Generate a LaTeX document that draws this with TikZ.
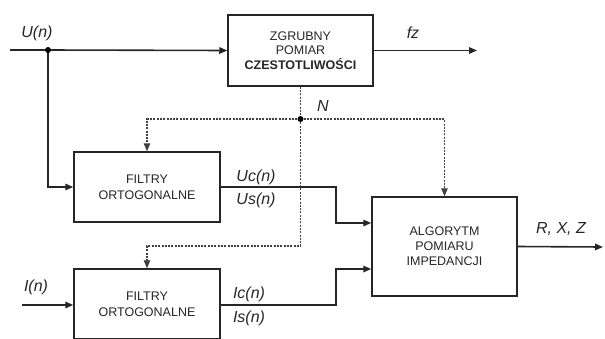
\documentclass[tikz,border=0pt]{standalone}
\usepackage{fontspec}
\setmainfont{Liberation Sans}
\usetikzlibrary{arrows.meta}
\begin{document}
\begin{tikzpicture}[x=1pt,y=-1pt,
  blk/.style={draw=black!85,line width=1.5pt,fill=white,align=center,inner sep=0pt,
    font=\fontsize{12.5}{14.5}\selectfont,text=black!85},
  lab/.style={font=\fontsize{16}{18}\selectfont\itshape,text=black!85,inner sep=0pt},
  sig/.style={draw=black!85,line width=1.6pt},
  arr/.style={sig,-{Triangle[length=8pt,width=6.5pt]}},
  dot/.style={draw=black!75,line width=1.1pt,dash pattern=on 2pt off 1.3pt},
  darr/.style={dot,-{Triangle[length=8pt,width=6.5pt]}},
  jn/.style={circle,fill=black,inner sep=0pt,minimum size=6pt}]
\useasboundingbox (0,0) rectangle (605,338);

% blocks
\node[blk,minimum width=145pt,minimum height=71pt] (top) at (300.5,50.5)
  {ZGRUBNY\\POMIAR\\\textbf{CZESTOTLIWOŚCI}};
\node[blk,minimum width=146pt,minimum height=70pt,font=\fontsize{12.5}{16}\selectfont] (f1) at (147,187)
  {FILTRY\\ORTOGONALNE};
\node[blk,minimum width=146pt,minimum height=70pt,font=\fontsize{12.5}{16}\selectfont] (f2) at (147,304)
  {FILTRY\\ORTOGONALNE};
\node[blk,minimum width=145pt,minimum height=99pt,font=\fontsize{12.5}{15}\selectfont] (alg) at (444.5,246.5)
  {ALGORYTM\\POMIARU\\IMPEDANCJI};

% junction positions
\coordinate (ujc) at (48,50);
\coordinate (njc) at (300.5,119);
\coordinate (uin) at (10,50);
\coordinate (iin) at (22,305);
\coordinate (fzout) at (477,50.5);
\coordinate (rout) at (603,247);

% solid signals
\draw[sig] (uin) -- (ujc);
\draw[arr] (ujc) -- (top.west);
\draw[arr] (ujc) |- (f1.west);
\draw[arr] (top.east) -- (fzout);
\draw[arr] (iin) -- (f2.west |- iin);
\draw[arr] (f1.east) -- (336,187) |- (alg.west |- 0,223);
\draw[arr] (f2.east |- iin) -- (336,305) |- (alg.west |- 0,269);
\draw[arr] (alg.east) -- (rout);

% dotted N lines
\draw[dot] (top.south) -- (njc);
\draw[darr] (njc) -| (f1.north);
\draw[darr] (njc) -| (alg.north);
\draw[darr] (njc) -- (300.5,246) -| (f2.north);

% junction dots
\node[jn] (uj) at (ujc) {};
\node[jn] (nj) at (njc) {};

% labels
\node[lab] (lu) at (37,33) {U(n)};
\node[lab] (lfz) at (413,33) {fz};
\node[lab] (ln) at (323,106) {N};
\node[lab] (luc) at (256,177) {Uc(n)};
\node[lab] (lus) at (256,200) {Us(n)};
\node[lab] (lic) at (249,294) {Ic(n)};
\node[lab] (lis) at (249,318) {Is(n)};
\node[lab] (li) at (36,287) {I(n)};
\node[lab] (lr) at (561,229) {R, X, Z};
\end{tikzpicture}
\end{document}
